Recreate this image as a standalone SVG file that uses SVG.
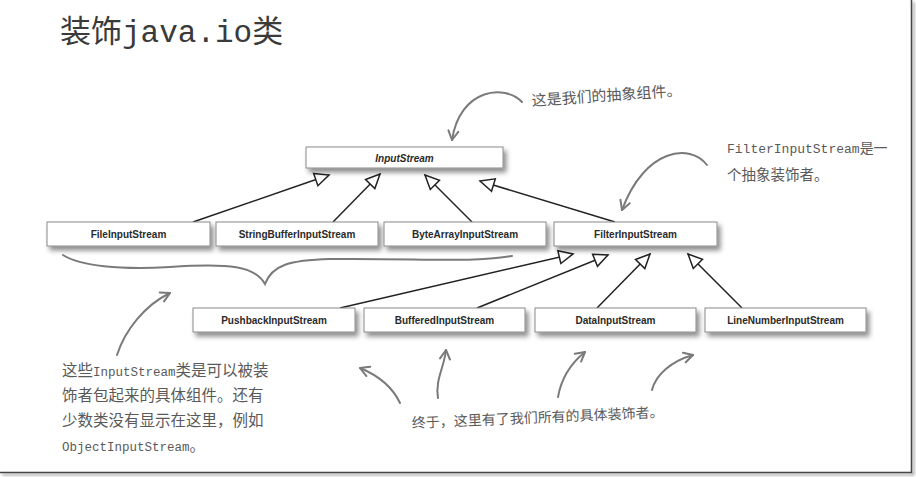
<svg xmlns="http://www.w3.org/2000/svg" width="916" height="477" viewBox="0 0 916 477">
<style>
.box{fill:#fff;stroke:#8a8a8a;stroke-width:1;filter:url(#sh)}
.lbl{font-family:"Liberation Sans",Arial,sans-serif;font-weight:bold;font-size:10px;fill:#2a2a2a;text-anchor:middle}
.edge{stroke:#222;stroke-width:1.5;fill:none;marker-end:url(#tri)}
.hand{stroke:#7a7a7a;stroke-width:2;fill:none;stroke-linecap:round}
.harr{marker-end:url(#vee)}
.note{font-family:"Liberation Mono","Noto Sans CJK SC",monospace;fill:#5a5a5a}
.lat{font-size:12.5px}
</style>
<defs>
<filter id="sh" x="-10%" y="-30%" width="125%" height="190%">
<feDropShadow dx="3" dy="4" stdDeviation="2.5" flood-color="#000" flood-opacity="0.45"/>
</filter>
<filter id="fsh" x="-5%" y="-5%" width="110%" height="110%">
<feDropShadow dx="2" dy="2" stdDeviation="1.5" flood-color="#000" flood-opacity="0.5"/>
</filter>
<marker id="tri" markerUnits="userSpaceOnUse" markerWidth="16" markerHeight="16" refX="14" refY="6.5" orient="auto" overflow="visible">
<path d="M0,0 L14,6.5 L0,13 Z" fill="#fff" stroke="#222" stroke-width="1.5" stroke-linejoin="miter"/>
</marker>
<marker id="vee" markerUnits="userSpaceOnUse" markerWidth="12" markerHeight="12" refX="9" refY="5" orient="auto" overflow="visible">
<path d="M0,0 L9,5 L0,10" fill="none" stroke="#7a7a7a" stroke-width="2" stroke-linecap="round" stroke-linejoin="round"/>
</marker>
</defs>
<rect width="916" height="477" fill="#fff"/>
<path d="M911.5,0 V472.5 H0" fill="none" stroke="#444" stroke-width="1.5" filter="url(#fsh)"/>

<text x="60" y="42" font-family="'Liberation Mono','Noto Sans CJK SC',monospace" font-size="31" fill="#3a3a3a">装饰java.io类</text>

<g id="connectors">
<line class="edge" x1="193" y1="222" x2="329" y2="175"/>
<line class="edge" x1="333" y1="222" x2="380" y2="174"/>
<line class="edge" x1="472" y1="222" x2="425" y2="175"/>
<line class="edge" x1="615" y1="222" x2="480" y2="181"/>
<line class="edge" x1="340" y1="308" x2="573" y2="254"/>
<line class="edge" x1="477" y1="308" x2="608" y2="255"/>
<line class="edge" x1="597" y1="308" x2="650" y2="254"/>
<line class="edge" x1="742" y1="308" x2="688" y2="254"/>
</g>

<g id="InputStream"><rect class="box" x="306" y="147" width="197" height="21"/><text class="lbl" x="404.5" y="161.5" font-style="italic">InputStream</text></g>
<g id="FileInputStream"><rect class="box" x="47" y="222" width="163" height="24"/><text class="lbl" x="128.5" y="237.5">FileInputStream</text></g>
<g id="StringBufferInputStream"><rect class="box" x="216" y="222" width="162" height="24"/><text class="lbl" x="297" y="237.5">StringBufferInputStream</text></g>
<g id="ByteArrayInputStream"><rect class="box" x="384" y="222" width="162" height="24"/><text class="lbl" x="465" y="237.5">ByteArrayInputStream</text></g>
<g id="FilterInputStream"><rect class="box" x="554" y="222" width="163" height="24"/><text class="lbl" x="635.5" y="237.5">FilterInputStream</text></g>
<g id="PushbackInputStream"><rect class="box" x="193" y="308" width="162" height="24"/><text class="lbl" x="274" y="323.5">PushbackInputStream</text></g>
<g id="BufferedInputStream"><rect class="box" x="364" y="308" width="161" height="24"/><text class="lbl" x="444.5" y="323.5">BufferedInputStream</text></g>
<g id="DataInputStream"><rect class="box" x="535" y="308" width="161" height="24"/><text class="lbl" x="615.5" y="323.5">DataInputStream</text></g>
<g id="LineNumberInputStream"><rect class="box" x="705" y="308" width="161" height="24"/><text class="lbl" x="785.5" y="323.5">LineNumberInputStream</text></g>

<g id="annotations">
<path class="hand harr" d="M522,102 C505,84 460,88 452,140"/>
<text class="note" font-size="15" transform="translate(532,106) rotate(-4)">这是我们的抽象组件。</text>

<path class="hand harr" d="M707,165 C690,143 645,148 622,210"/>
<text class="note" font-size="13" x="727" y="153">FilterInputStream<tspan font-size="14">是一</tspan></text>
<text class="note" font-size="14.5" x="727" y="180">个抽象装饰者。</text>

<path class="hand" d="M63,255 C80,266 120,270 170,267 C230,263 255,266 265,284 C272,265 290,260 330,259 C420,258 470,263 512,256"/>
<path class="hand harr" d="M117,355 C125,330 145,305 170,293"/>

<text class="note" font-size="15.5"><tspan x="62" y="376">这些<tspan class="lat">InputStream</tspan>类是可以被装</tspan><tspan x="62" y="401">饰者包起来的具体组件。还有</tspan><tspan x="62" y="426">少数类没有显示在这里，例如</tspan><tspan x="62" y="451"><tspan class="lat">ObjectInputStream</tspan>。</tspan></text>

<path class="hand harr" d="M400,403 C392,386 377,375 360,368"/>
<path class="hand harr" d="M438,398 C435,380 444,368 446,350"/>
<path class="hand harr" d="M558,397 C561,380 570,364 585,352"/>
<path class="hand harr" d="M652,390 C656,374 672,361 693,355"/>
<text class="note" font-size="14" transform="translate(412,428) rotate(-2.5)">终于，这里有了我们所有的具体装饰者。</text>
</g>
</svg>
